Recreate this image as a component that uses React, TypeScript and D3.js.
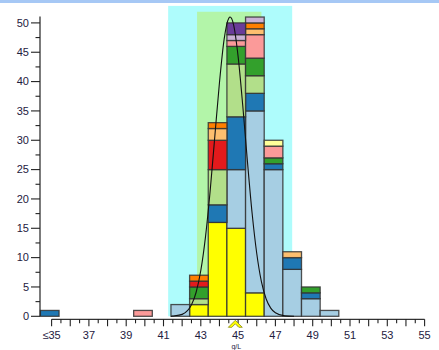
import React from "react";
import * as d3 from "d3";

const binStarts = [34.4, 39.4, 41.4, 42.4, 43.4, 44.4, 45.4, 46.4, 47.4, 48.4, 49.4];
const binWidth = 1;

const seriesNames = ["yellow", "lightBlue", "darkBlue", "lightGreen", "green", "red", "pink", "lightOrange", "orange", "lavender", "purple", "lightYellow"];
const seriesColors = ["#ffff00", "#a6cee3", "#1f78b4", "#b2df8a", "#33a02c", "#e31a1c", "#fb9a99", "#fdbf6f", "#ff7f00", "#cab2d6", "#6a3d9a", "#ffff99"];

const yellow = [0, 0, 0, 2, 16, 15, 4, 0, 0, 0, 0];
const lightBlue = [0, 0, 2, 0, 0, 10, 31, 25, 8, 3, 1];
const darkBlue = [1, 0, 0, 0, 3, 9, 3, 1, 2, 1, 0];
const lightGreen = [0, 0, 0, 1, 6, 9, 3, 0, 0, 0, 0];
const green = [0, 0, 0, 2, 0, 3, 3, 1, 0, 1, 0];
const red = [0, 0, 0, 1, 5, 0, 0, 0, 0, 0, 0];
const pink = [0, 1, 0, 0, 0, 1, 4, 2, 0, 0, 0];
const lightOrange = [0, 0, 0, 0, 2, 0, 1, 0, 1, 0, 0];
const orange = [0, 0, 0, 1, 1, 0, 1, 0, 0, 0, 0];
const lavender = [0, 0, 0, 0, 0, 1, 1, 0, 0, 0, 0];
const purple = [0, 0, 0, 0, 0, 2, 0, 0, 0, 0, 0];
const lightYellow = [0, 0, 0, 0, 0, 0, 0, 1, 0, 0, 0];

const seriesValues = [yellow, lightBlue, darkBlue, lightGreen, green, red, pink, lightOrange, orange, lavender, purple, lightYellow];

// fitted distribution curve
const curveX = [41.4, 41.5, 42.0, 42.5, 42.75, 43.0, 43.25, 43.5, 43.75, 44.0, 44.25, 44.5, 44.57, 44.75, 45.0, 45.25, 45.5, 45.75, 46.0, 46.25, 46.5, 46.75, 47.0, 47.5, 48.0];
const curveY = [0.0, 0.04, 0.33, 1.95, 4.1, 7.8, 13.5, 21.3, 30.6, 39.8, 47.2, 50.8, 51.0, 49.8, 44.3, 35.9, 26.4, 17.6, 10.7, 5.9, 3.0, 1.4, 0.6, 0.07, 0.0];

const outerRange = [41.25, 47.9, 52.9];
const innerRange = [42.8, 46.25, 51.9];
const markerValue = 44.85;

const xTickLabels = ["≤35", "37", "39", "41", "43", "45", "47", "49", "51", "53", "55"];
const xTickValues = [35, 37, 39, 41, 43, 45, 47, 49, 51, 53, 55];
const yTickValues = [0, 5, 10, 15, 20, 25, 30, 35, 40, 45, 50];
const yAxisTop = 51.1;
const unitLabel = "g/L";

const FONT = "'Liberation Sans', Arial, sans-serif";
const TEXT = "#1e2040";

export default function App() {
  const W = 439, H = 350;
  const x = d3.scaleLinear().domain([35, 55]).range([51.6, 424.6]);
  const y = d3.scaleLinear().domain([0, 50]).range([316.3, 22.9]);
  const axisY = 319.3;
  const yAxisX = 40;

  const table = binStarts.map((s, i) => {
    const row: any = { start: s };
    seriesNames.forEach((n, k) => (row[n] = seriesValues[k][i]));
    return row;
  });
  const stacked = d3.stack().keys(seriesNames)(table);

  const line = d3
    .line<number>()
    .x((_, i) => x(curveX[i]))
    .y((d) => y(d))
    .curve(d3.curveMonotoneX);

  const xMinor = d3.range(35, 55.01, 0.5);
  const yMinor = d3.range(0, 50.01, 2.5);

  const mx = x(markerValue);

  return (
    <svg width={W} height={H} style={{ position: "absolute", left: 0, top: 0, background: "#fff" }}>
      <rect x={0} y={0} width={W} height={3} fill="#a6c8f5" />
      <rect x={x(outerRange[0])} y={y(outerRange[2])} width={x(outerRange[1]) - x(outerRange[0])} height={y(0) - y(outerRange[2])} fill="#aefcfc" />
      <rect x={x(innerRange[0])} y={y(innerRange[2])} width={x(innerRange[1]) - x(innerRange[0])} height={y(0) - y(innerRange[2])} fill="#b3f5a9" />

      {stacked.map((layer, k) =>
        layer.map((d, i) => {
          if (d[1] - d[0] <= 0) return null;
          const s = binStarts[i];
          const x0 = Math.max(x(s), yAxisX);
          const x1 = x(s + binWidth);
          return (
            <rect
              key={k + "-" + i}
              x={x0}
              y={y(d[1])}
              width={x1 - x0}
              height={y(d[0]) - y(d[1])}
              fill={seriesColors[k]}
              stroke="#333"
              strokeOpacity={0.85}
              strokeWidth={1.3}
            />
          );
        })
      )}

      <path d={line(curveY) || ""} fill="none" stroke="#111" strokeWidth={1.1} />

      {/* y axis */}
      <line x1={yAxisX} x2={yAxisX} y1={y(0)} y2={y(yAxisTop)} stroke="#222" strokeWidth={1.2} />
      {yMinor.map((v) => {
        const major = v % 5 === 0;
        return <line key={"ym" + v} x1={yAxisX - (major ? 9 : 4.5)} x2={yAxisX} y1={y(v)} y2={y(v)} stroke="#222" strokeWidth={1.1} />;
      })}
      {yTickValues.map((v) => (
        <text key={"yl" + v} x={yAxisX - 11} y={y(v)} dy="0.35em" textAnchor="end" fontFamily={FONT} fontSize={11} fill={TEXT}>
          {v}
        </text>
      ))}

      {/* x axis */}
      <line x1={x(35)} x2={x(55)} y1={axisY} y2={axisY} stroke="#333" strokeWidth={1.2} />
      {xMinor.map((v) => {
        const major = Math.abs(v - Math.round(v)) < 1e-6;
        return <line key={"xm" + v} x1={x(v)} x2={x(v)} y1={axisY} y2={axisY + (major ? 7 : 4)} stroke="#222" strokeWidth={1.1} />;
      })}
      {xTickValues.map((v, i) => (
        <text key={"xl" + v} x={x(v)} y={axisY + 15.5} dy="0.35em" textAnchor="middle" fontFamily={FONT} fontSize={11} fill={TEXT}>
          {xTickLabels[i]}
        </text>
      ))}

      {/* marker */}
      <path
        d={`M${mx - 7},${axisY + 8} L${mx},${axisY + 1} L${mx + 7},${axisY + 8} L${mx + 3.5},${axisY + 8} L${mx},${axisY + 4.5} L${mx - 3.5},${axisY + 8} Z`}
        fill="#ffff00"
        stroke="#8a8a20"
        strokeWidth={0.8}
      />
      <text x={mx + 1} y={axisY + 29.5} textAnchor="middle" fontFamily={FONT} fontSize={7} fill={TEXT}>
        {unitLabel}
      </text>
    </svg>
  );
}
